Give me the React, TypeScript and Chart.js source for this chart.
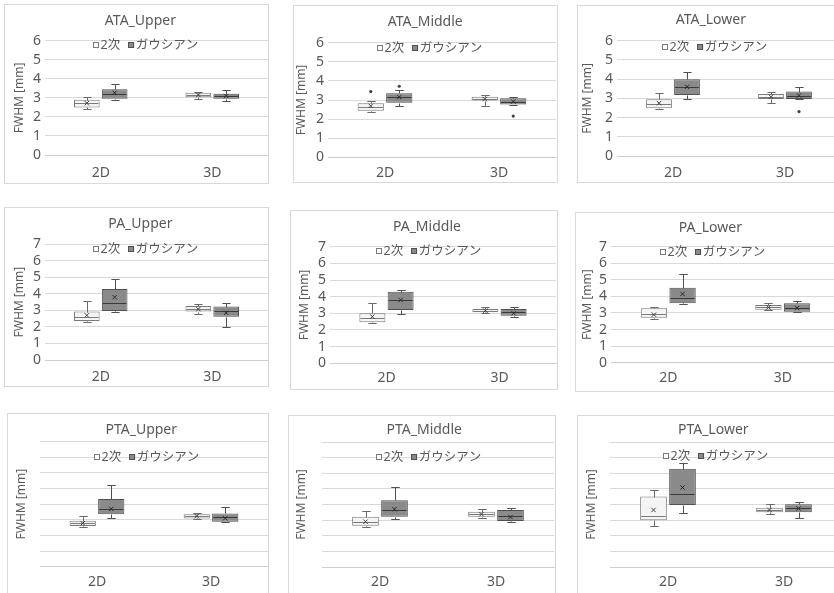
import React, { useEffect, useRef } from 'react';
import { Chart, registerables } from 'chart.js';

Chart.register(...registerables);

// ---------- data ----------
const categories = ['2D', '3D'];
const seriesNames = ['2次', 'ガウシアン'];
const panelTitles = [
  'ATA_Upper', 'ATA_Middle', 'ATA_Lower',
  'PA_Upper', 'PA_Middle', 'PA_Lower',
  'PTA_Upper', 'PTA_Middle', 'PTA_Lower',
];
const yMaxes = [6, 6, 6, 7, 7, 7, 8, 8, 8];
const showYTickLabels = [true, true, true, true, true, true, false, false, false];

// each row: [min, q1, median, q3, max, mean] for categories 2D, 3D
const ataUpper2ji = [[2.43, 2.50, 2.71, 2.90, 3.06, 2.72], [2.95, 3.03, 3.15, 3.27, 3.32, 3.15]];
const ataUpperGauss = [[2.89, 2.95, 3.22, 3.45, 3.73, 3.27], [2.85, 2.95, 3.12, 3.22, 3.41, 3.10]];
const ataMiddle2ji = [[2.37, 2.44, 2.62, 2.83, 2.95, 2.69], [2.69, 2.97, 3.07, 3.17, 3.26, 3.05]];
const ataMiddleGauss = [[2.69, 2.86, 3.14, 3.35, 3.52, 3.15], [2.72, 2.76, 2.91, 3.09, 3.14, 2.92]];
const ataLower2ji = [[2.43, 2.48, 2.70, 2.95, 3.26, 2.75], [2.74, 2.97, 3.09, 3.23, 3.31, 3.08]];
const ataLowerGauss = [[2.97, 3.17, 3.57, 4.00, 4.39, 3.60], [2.95, 2.97, 3.14, 3.35, 3.57, 3.15]];
const paUpper2ji = [[2.32, 2.36, 2.62, 2.93, 3.57, 2.70], [2.76, 2.93, 3.09, 3.27, 3.37, 3.08]];
const paUpperGauss = [[2.93, 2.97, 3.43, 4.30, 4.90, 3.80], [2.02, 2.62, 2.97, 3.23, 3.47, 2.85]];
const paMiddle2ji = [[2.40, 2.46, 2.74, 3.00, 3.60, 2.80], [3.00, 3.06, 3.16, 3.26, 3.38, 3.16]];
const paMiddleGauss = [[2.94, 3.20, 3.78, 4.30, 4.40, 3.80], [2.76, 2.86, 3.06, 3.26, 3.40, 3.00]];
const paLower2ji = [[2.64, 2.72, 2.92, 3.28, 3.38, 2.90], [3.18, 3.20, 3.34, 3.48, 3.58, 3.34]];
const paLowerGauss = [[3.52, 3.58, 3.88, 4.53, 5.33, 4.15], [3.04, 3.08, 3.32, 3.58, 3.72, 3.30]];
const ptaUpper2ji = [[2.56, 2.60, 2.77, 2.94, 3.26, 2.78], [3.05, 3.09, 3.24, 3.35, 3.46, 3.24]];
const ptaUpperGauss = [[3.09, 3.35, 3.69, 4.33, 5.23, 3.70], [2.84, 2.88, 3.16, 3.41, 3.84, 3.10]];
const ptaMiddle2ji = [[2.58, 2.64, 2.90, 3.22, 3.58, 2.90], [3.11, 3.22, 3.39, 3.54, 3.69, 3.38]];
const ptaMiddleGauss = [[3.05, 3.22, 3.65, 4.27, 5.15, 3.70], [2.90, 2.94, 3.28, 3.65, 3.80, 3.20]];
const ptaLower2ji = [[2.64, 3.00, 3.28, 4.51, 4.94, 3.65], [3.37, 3.50, 3.65, 3.80, 4.03, 3.65]];
const ptaLowerGauss = [[3.43, 3.97, 4.70, 6.29, 6.65, 5.09], [3.11, 3.50, 3.76, 4.01, 4.14, 3.75]];

// outlier points per category [2D, 3D]
const ataMiddle2jiOutliers = [[3.44], []];
const ataMiddleGaussOutliers = [[3.72], [2.16]];
const ataLowerGaussOutliers = [[], [2.31]];
const noOutliers = [[], []];

const stats2ji = [ataUpper2ji, ataMiddle2ji, ataLower2ji, paUpper2ji, paMiddle2ji, paLower2ji, ptaUpper2ji, ptaMiddle2ji, ptaLower2ji];
const statsGauss = [ataUpperGauss, ataMiddleGauss, ataLowerGauss, paUpperGauss, paMiddleGauss, paLowerGauss, ptaUpperGauss, ptaMiddleGauss, ptaLowerGauss];
const outliers2ji = [noOutliers, ataMiddle2jiOutliers, noOutliers, noOutliers, noOutliers, noOutliers, noOutliers, noOutliers, noOutliers];
const outliersGauss = [noOutliers, ataMiddleGaussOutliers, ataLowerGaussOutliers, noOutliers, noOutliers, noOutliers, noOutliers, noOutliers, noOutliers];

// ---------- layout (page pixel geometry) ----------
const layouts = [
  { left: 4, top: 4, w: 265, h: 180, plot: [45, 40.7, 268, 155], titleY: 21, labelY: 173, yTitleX: 20, legend: [93, 45] },
  { left: 293, top: 5, w: 265, h: 178, plot: [328, 42.7, 556, 157.3], titleY: 22, labelY: 173, yTitleX: 301.7, legend: [377, 48] },
  { left: 577, top: 5, w: 266, h: 178, plot: [617, 40.7, 841, 156], titleY: 20, labelY: 173, yTitleX: 588, legend: [662, 47] },
  { left: 4, top: 207, w: 265, h: 180, plot: [45, 244.3, 268, 360], titleY: 224, labelY: 377, yTitleX: 20, legend: [93, 249] },
  { left: 290, top: 210, w: 268, h: 180, plot: [330, 246.7, 556, 363.3], titleY: 226.7, labelY: 378, yTitleX: 305, legend: [376, 251] },
  { left: 575, top: 212, w: 268, h: 180, plot: [611, 246.7, 840, 362.7], titleY: 228, labelY: 377.7, yTitleX: 588, legend: [660, 252] },
  { left: 7, top: 413, w: 262, h: 190, plot: [40, 441.7, 268, 566.7], titleY: 430, labelY: 581.7, yTitleX: 21.7, legend: [94, 457] },
  { left: 288, top: 415, w: 268, h: 190, plot: [322, 442, 554, 567], titleY: 430, labelY: 581.7, yTitleX: 301.7, legend: [376, 457] },
  { left: 577, top: 415, w: 266, h: 190, plot: [610, 442, 842, 567], titleY: 430, labelY: 582, yTitleX: 591.7, legend: [663, 456] },
];

const FONT = "'Noto Sans', 'Noto Sans CJK JP', sans-serif";
const TEXT = '#595959';
const GRID = '#d9d9d9';
const seriesStyle = [
  { fill: '#f4f4f4', border: '#7a7a7a', whisker: '#6a6a6a', median: '#7a7a7a', mean: '#404040' },
  { fill: '#8a8a8a', border: '#505050', whisker: '#505050', median: '#3a3a3a', mean: '#2a2a2a' },
];

const TITLE_SIZE = 14;
const TICK_SIZE = 14;
const YTITLE_SIZE = 12;
const LEGEND_SIZE = 12.5;

function Panel({ idx }: { idx: number }) {
  const ref = useRef<HTMLCanvasElement>(null);
  const L = layouts[idx];
  const cw = L.w - 2;
  const ch = L.h - 2;

  useEffect(() => {
    const cx0 = L.left + 1;
    const cy0 = L.top + 1;
    const pl = L.plot[0] - cx0;
    const pt = L.plot[1] - cy0;
    const pr = L.plot[2] - cx0;
    const pb = L.plot[3] - cy0;
    const padLeft = L.yTitleX - cx0 - (YTITLE_SIZE * 1.2) / 2;
    const yWidth = pl - padLeft;
    const padRight = cw - pr;
    const tlh = TITLE_SIZE * 1.2;
    const titlePadTop = L.titleY - cy0 - tlh / 2;
    const titlePadBottom = pt - titlePadTop - tlh;
    const xHeight = ch - pb;
    const xTickPad = L.labelY - cy0 - pb - (TICK_SIZE * 1.2) / 2;
    const legendX = L.legend[0] - cx0;
    const legendY = L.legend[1] - cy0;

    const allStats = [stats2ji[idx], statsGauss[idx]];
    const allOutliers = [outliers2ji[idx], outliersGauss[idx]];

    const boxPlugin = {
      id: 'boxWhiskers',
      afterDatasetsDraw(chart: any) {
        const ctx = chart.ctx;
        const yS = chart.scales.y;
        const py = (v: number) => Math.round(yS.getPixelForValue(v)) + 0.5;
        ctx.save();
        ctx.lineWidth = 1;
        allStats.forEach((stats, d) => {
          const meta = chart.getDatasetMeta(d);
          const st = seriesStyle[d];
          meta.data.forEach((bar: any, i: number) => {
            const [mn, q1, md, q3, mx, mean] = stats[i];
            const x = Math.round(bar.x) + 0.5;
            const w = bar.width;
            const cap = Math.max(6, w * 0.32);
            ctx.strokeStyle = st.whisker;
            ctx.beginPath();
            ctx.moveTo(x, py(q3));
            ctx.lineTo(x, py(mx));
            ctx.moveTo(x - cap / 2, py(mx));
            ctx.lineTo(x + cap / 2, py(mx));
            ctx.moveTo(x, py(q1));
            ctx.lineTo(x, py(mn));
            ctx.moveTo(x - cap / 2, py(mn));
            ctx.lineTo(x + cap / 2, py(mn));
            ctx.stroke();
            // median
            ctx.strokeStyle = st.median;
            ctx.beginPath();
            ctx.moveTo(bar.x - w / 2 + 1, py(md));
            ctx.lineTo(bar.x + w / 2 - 1, py(md));
            ctx.stroke();
            // mean marker (x)
            const my = yS.getPixelForValue(mean);
            const s = 2.2;
            ctx.strokeStyle = st.mean;
            ctx.beginPath();
            ctx.moveTo(bar.x - s, my - s);
            ctx.lineTo(bar.x + s, my + s);
            ctx.moveTo(bar.x - s, my + s);
            ctx.lineTo(bar.x + s, my - s);
            ctx.stroke();
            // outliers
            ctx.fillStyle = '#404040';
            allOutliers[d][i].forEach((v: number) => {
              ctx.beginPath();
              ctx.arc(bar.x, yS.getPixelForValue(v), 1.6, 0, Math.PI * 2);
              ctx.fill();
            });
          });
        });
        ctx.restore();
      },
    };

    const legendPlugin = {
      id: 'insetLegend',
      afterDraw(chart: any) {
        const ctx = chart.ctx;
        ctx.save();
        ctx.font = `${LEGEND_SIZE}px ${FONT}`;
        ctx.textBaseline = 'middle';
        ctx.textAlign = 'left';
        let x = legendX;
        seriesNames.forEach((name, d) => {
          const st = seriesStyle[d];
          const sz = 6;
          ctx.fillStyle = d === 0 ? '#ffffff' : st.fill;
          ctx.fillRect(x, legendY - sz / 2, sz, sz);
          ctx.strokeStyle = st.border;
          ctx.lineWidth = 1;
          ctx.strokeRect(Math.round(x) + 0.5, Math.round(legendY - sz / 2) + 0.5, sz - 1, sz - 1);
          x += sz + 1.5;
          ctx.fillStyle = TEXT;
          ctx.fillText(name, x, legendY + 0.5);
          x += ctx.measureText(name).width + 8;
        });
        ctx.restore();
      },
    };

    const datasets = allStats.map((stats, d) => ({
      label: seriesNames[d],
      data: stats.map((s) => [s[1], s[3]]),
      backgroundColor: seriesStyle[d].fill,
      borderColor: seriesStyle[d].border,
      borderWidth: 1,
      borderSkipped: false,
      categoryPercentage: 0.5,
      barPercentage: 0.92,
    }));

    const chart = new Chart(ref.current as HTMLCanvasElement, {
      type: 'bar',
      data: { labels: categories, datasets: datasets as any },
      options: {
        animation: false,
        responsive: false,
        maintainAspectRatio: false,
        devicePixelRatio: 1,
        events: [],
        layout: { padding: { left: padLeft, right: padRight, top: 0, bottom: 0 } },
        plugins: {
          legend: { display: false },
          tooltip: { enabled: false },
          title: {
            display: true,
            text: panelTitles[idx],
            color: TEXT,
            font: { family: FONT, size: TITLE_SIZE, weight: 'normal' as any },
            padding: { top: titlePadTop, bottom: titlePadBottom },
          },
        },
        scales: {
          x: {
            grid: { display: false, drawTicks: false },
            border: { display: true, color: '#cfcfcf' },
            ticks: { color: TEXT, font: { family: FONT, size: TICK_SIZE }, padding: xTickPad },
            afterFit: (scale: any) => {
              scale.height = xHeight;
            },
          },
          y: {
            min: 0,
            max: yMaxes[idx],
            grid: { color: GRID, drawTicks: false },
            border: { display: false },
            ticks: {
              display: showYTickLabels[idx],
              stepSize: 1,
              autoSkip: false,
              color: TEXT,
              font: { family: FONT, size: TICK_SIZE },
              padding: 4,
            },
            title: {
              display: true,
              text: 'FWHM [mm]',
              color: TEXT,
              font: { family: FONT, size: YTITLE_SIZE },
              padding: { top: 0, bottom: 0 },
            },
            afterFit: (scale: any) => {
              scale.width = yWidth;
            },
          },
        },
      },
      plugins: [boxPlugin, legendPlugin],
    } as any);
    return () => chart.destroy();
  }, [idx]);

  return (
    <div
      style={{
        position: 'absolute',
        left: L.left,
        top: L.top,
        width: L.w,
        height: L.h,
        border: '1px solid #d9d9d9',
        boxSizing: 'border-box',
        background: '#ffffff',
      }}
    >
      <canvas ref={ref} width={cw} height={ch} style={{ display: 'block', width: cw, height: ch }} />
    </div>
  );
}

export default function App() {
  return (
    <div
      style={{
        position: 'absolute',
        left: 0,
        top: 0,
        width: 834,
        height: 593,
        overflow: 'hidden',
        background: '#ffffff',
      }}
    >
      {panelTitles.map((_, i) => (
        <Panel key={i} idx={i} />
      ))}
    </div>
  );
}
